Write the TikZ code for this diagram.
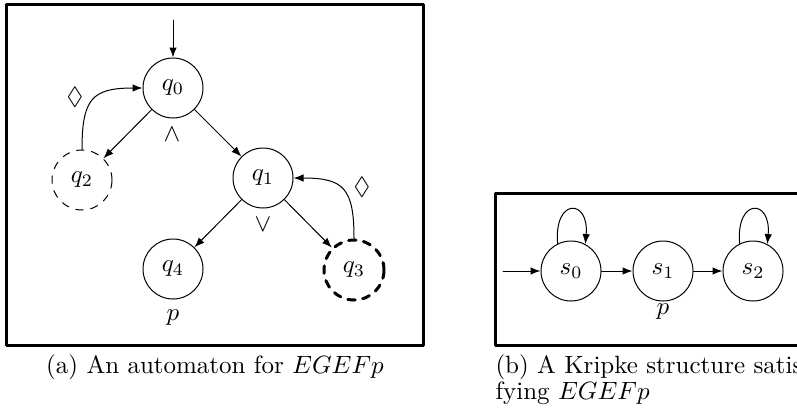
\documentclass[tikz,border=0pt]{standalone}
\usepackage{amssymb}
\usetikzlibrary{arrows.meta}
\begin{document}
\begin{tikzpicture}[x=0.4pt, y=0.4pt, line cap=round, line join=round,
  state/.style={draw, circle, minimum size=24pt, inner sep=0pt},
  edge/.style={-{Latex[length=4pt,width=3pt]}},
  frame/.style={draw, line width=1.2pt},
  mark label/.style={inner sep=0pt}]

\useasboundingbox (0,0) rectangle (797,409);

% Frames
\draw[frame] (6,405) rectangle (423,64);
\draw[frame] (495,216) rectangle (835,64);

% Automaton states
\node[state] (q0) at (173,321) {$q_0$};
\node[state, dashed] (q2) at (82,229) {$q_2$};
\node[state] (q1) at (263,231) {$q_1$};
\node[state] (q4) at (173,140) {$q_4$};
\node[state, dashed, line width=1.2pt] (q3) at (354,139) {$q_3$};
\coordinate (q0in) at (173,389);

% Automaton transitions
\draw[edge] (q0in) -- (q0);
\draw[edge] (q0) -- (q2);
\draw[edge] (q0) -- (q1);
\draw[edge] (q1) -- (q4);
\draw[edge] (q1) -- (q3);
\draw[edge] (q2.north) to[out=90, in=180, looseness=1.5] (q0.west);
\draw[edge] (q3.north) to[out=90, in=0, looseness=1.5] (q1.east);

% Automaton labels
\node[mark label] (and0) at (172,274) {$\wedge$};
\node[mark label] (or1) at (263,184) {$\vee$};
\node[mark label] (dia2) at (75,312) {$\lozenge$};
\node[mark label] (dia3) at (362,222) {$\lozenge$};
\node[mark label] (p4) at (173,91) {$p$};

% Kripke states
\node[state] (s0) at (571,138) {$s_0$};
\node[state] (s1) at (663,138) {$s_1$};
\node[state] (s2) at (753,138) {$s_2$};
\coordinate (s0in) at (503,138);

% Kripke transitions
\draw[edge] (s0in) -- (s0);
\draw[edge] (s0) -- (s1);
\draw[edge] (s1) -- (s2);
\draw[edge] (s0.116) .. controls +(95:46) and +(85:46) .. (s0.62);
\draw[edge] (s2.116) .. controls +(95:46) and +(85:46) .. (s2.62);
\node[mark label] (p1) at (663,97) {$p$};

% Captions
\node[anchor=base, inner sep=0pt] (capa) at (215,36) {(a) An automaton for $EGEFp$};
\node[anchor=base west, inner sep=0pt] (capb) at (495,36)
  {\def\arraystretch{0.87}\begin{tabular}[t]{@{}l@{}}(b) A Kripke structure satis\\fying $EGEFp$\end{tabular}};

\end{tikzpicture}
\end{document}
